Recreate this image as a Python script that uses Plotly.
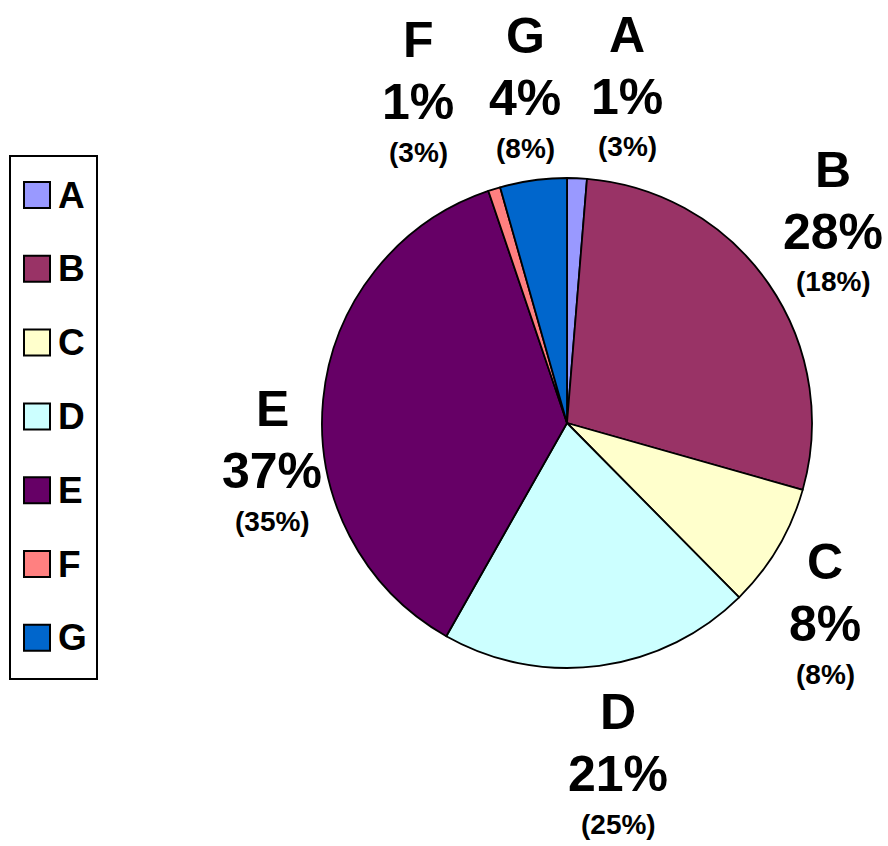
import plotly.graph_objects as go

W, H = 888, 846

# ---- data ----
labels = ["A", "B", "C", "D", "E", "F", "G"]
values = [1.3, 28.1, 8.2, 20.6, 36.6, 0.8, 4.4]
secondary = ["(3%)", "(18%)", "(8%)", "(25%)", "(35%)", "(3%)", "(8%)"]
colors = ["#9999FF", "#993366", "#FFFFCC", "#CCFFFF", "#660066", "#FF8080", "#0066CC"]

# ---- label placement (pixel centers of the name line) ----
label_pos = {
    "A": (627, 35), "B": (833, 170), "C": (825, 562), "D": (618, 712),
    "E": (272, 409), "F": (418, 40), "G": (525, 36),
}
FONT = "Liberation Sans, Arial, sans-serif"


def px(x):
    return x / W


def py(y):
    return 1 - y / H


fig = go.Figure()

cx, cy, r = 567, 423, 245
fig.add_trace(go.Pie(
    labels=labels, values=values, sort=False, direction="clockwise", rotation=0,
    marker=dict(colors=colors, line=dict(color="black", width=1.8)),
    textinfo="none", hoverinfo="label+percent", showlegend=False,
    domain=dict(x=[px(cx - r), px(cx + r)], y=[py(cy + r), py(cy - r)]),
))

total = sum(values)
ann = []
shapes = []
for lab, v, sec in zip(labels, values, secondary):
    x0, y0 = label_pos[lab]
    pct = f"{round(100 * v / total):d}%"
    for txt, dy, size in [(lab, 0, 50), (pct, 62, 50), (sec, 112, 28)]:
        ann.append(dict(
            x=px(x0), y=py(y0 + dy), xref="paper", yref="paper",
            text=txt, showarrow=False, xanchor="center", yanchor="middle",
            font=dict(family=FONT, size=size, color="black", weight="bold"),
        ))

# ---- custom legend (box, swatches, texts) ----
LEG_BOX = (10, 156, 97, 679)
LEG_FIRST, LEG_STEP, SW = 195, 73.8, 26
shapes.append(dict(type="rect", xref="paper", yref="paper",
                   x0=px(LEG_BOX[0]), x1=px(LEG_BOX[2]), y0=py(LEG_BOX[3]), y1=py(LEG_BOX[1]),
                   line=dict(color="black", width=2), fillcolor="white", layer="below"))
for i, (lab, col) in enumerate(zip(labels, colors)):
    yc = LEG_FIRST + i * LEG_STEP
    shapes.append(dict(type="rect", xref="paper", yref="paper",
                       x0=px(24), x1=px(24 + SW), y0=py(yc + SW / 2), y1=py(yc - SW / 2),
                       line=dict(color="black", width=2), fillcolor=col))
    ann.append(dict(x=px(56), y=py(yc), xref="paper", yref="paper", text=lab,
                    showarrow=False, xanchor="left", yanchor="middle",
                    font=dict(family=FONT, size=37, color="black", weight="bold")))

fig.update_layout(
    width=W, height=H, margin=dict(l=0, r=0, t=0, b=0),
    paper_bgcolor="white", plot_bgcolor="white",
    annotations=ann, shapes=shapes, showlegend=False,
)

fig.write_html("out.html", config={"displayModeBar": False},
               post_script="document.body.style.margin='0px';")
